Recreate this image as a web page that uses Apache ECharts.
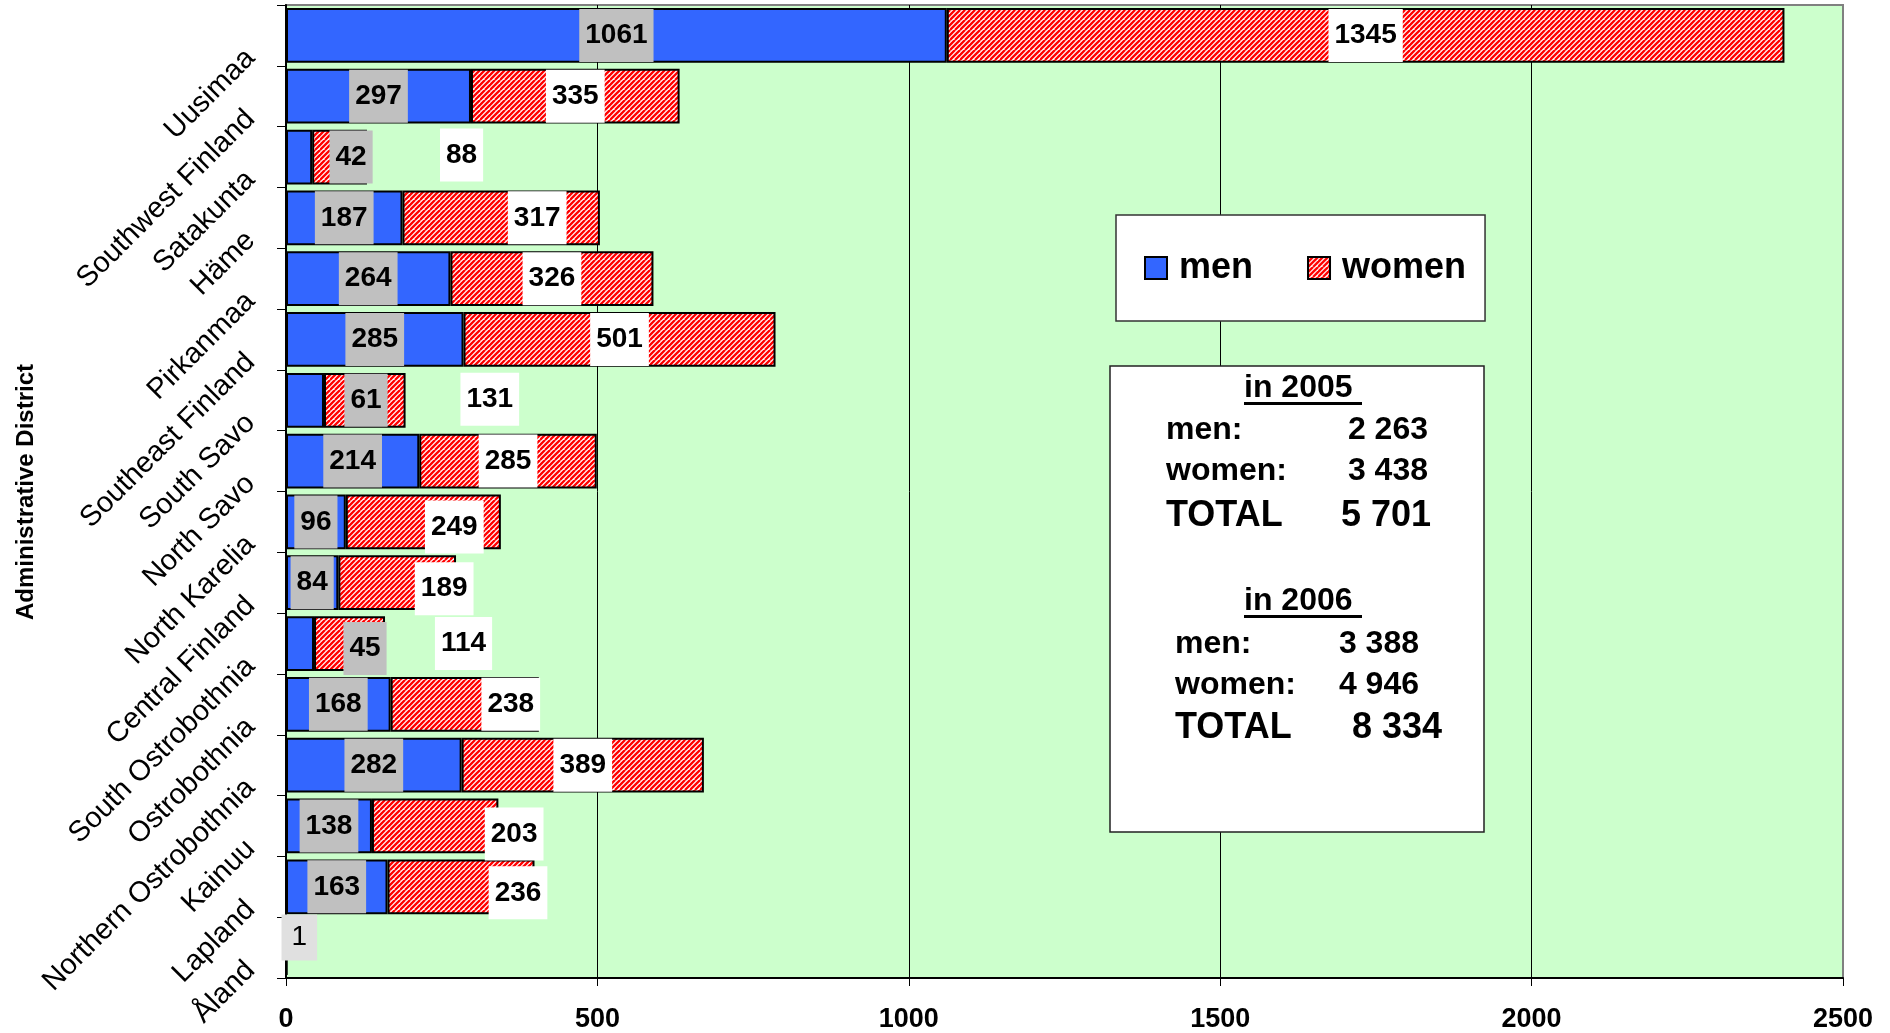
<!DOCTYPE html>
<html>
<head>
<meta charset="utf-8">
<script src="https://cdn.jsdelivr.net/npm/echarts@6/dist/echarts.min.js"></script>
<style>
html, body { margin: 0; padding: 0; background: #fff; }
#chart { width: 1890px; height: 1033px; }
</style>
</head>
<body>
<div id="chart"></div>
<script>
// data
const districts = ['Uusimaa', 'Southwest Finland', 'Satakunta', 'Häme', 'Pirkanmaa',
  'Southeast Finland', 'South Savo', 'North Savo', 'North Karelia', 'Central Finland',
  'South Ostrobothnia', 'Ostrobothnia', 'Northern Ostrobothnia', 'Kainuu', 'Lapland', 'Åland']
const men = [1061, 297, 42, 187, 264, 285, 61, 214, 96, 84, 45, 168, 282, 138, 163, 1]
const women = [1345, 335, 88, 317, 326, 501, 131, 285, 249, 189, 114, 238, 389, 203, 236, 0]
const seriesNames = ['men', 'women']
const summary2005 = [['men:', '2 263'], ['women:', '3 438'], ['TOTAL', '5 701']]
const summary2006 = [['men:', '3 388'], ['women:', '4 946'], ['TOTAL', '8 334']]

const FONT = 'Arial, "Liberation Sans", sans-serif'

// labels that were dragged off their bar in the original (pixel nudges)
const menNudge = { 2: [52, 0], 6: [61, 0], 10: [65, 5], 15: [13, -10] }
const womenNudge = { 2: [122, -2], 3: [36, 0], 6: [125, -1], 8: [31, 5], 9: [47, 6],
  10: [114, 0], 11: [46, 0], 13: [79, 8], 14: [57, 6] }

// red / white diagonal hatch
function hatch() {
  var c = document.createElement('canvas')
  c.width = 10; c.height = 10
  var g = c.getContext('2d')
  g.fillStyle = '#ffffff'
  g.fillRect(0, 0, 10, 10)
  g.strokeStyle = '#ff0000'
  g.lineWidth = 2.3
  for (var k = -1; k <= 5; k++) {
    g.beginPath()
    g.moveTo(k * 5, 0)
    g.lineTo(k * 5 - 10, 10)
    g.stroke()
    g.beginPath()
    g.moveTo(k * 5 + 10, -10)
    g.lineTo(k * 5, 0)
    g.stroke()
  }
  return c
}

function menItem(v, i) {
  var item = { value: v }
  var nudge = menNudge[i]
  if (nudge) item.label = { offset: nudge }
  if (i === 15) {
    item.label = { offset: nudge, fontWeight: 'normal', backgroundColor: '#e0e0e0', padding: [9, 10, 9, 10] }
  }
  return item
}

function womenItem(v, i) {
  var item = { value: v }
  if (womenNudge[i]) item.label = { offset: womenNudge[i] }
  if (v === 0) item.label = { show: false }
  return item
}

var valueLabel = {
  show: true,
  position: 'inside',
  color: '#000',
  fontFamily: FONT,
  fontWeight: 'bold',
  fontSize: 28,
  lineHeight: 28,
  padding: [13, 6, 12, 6]
}

var chart = echarts.init(document.getElementById('chart'))

var summaryText = []
function block(title, titleY, rows, left, numRight, rowsY) {
  summaryText.push({
    type: 'text', z: 101, x: 1244, y: titleY,
    style: { text: title, font: 'bold 32px ' + FONT, fill: '#000', align: 'left', verticalAlign: 'middle' }
  })
  summaryText.push({
    type: 'rect', z: 101, shape: { x: 1244, y: titleY + 14, width: 118, height: 3 },
    style: { fill: '#000' }
  })
  rows.forEach(function (r, i) {
    var size = r[0] === 'TOTAL' ? 36 : 32
    summaryText.push({
      type: 'text', z: 101, x: left, y: rowsY[i],
      style: { text: r[0], font: 'bold ' + size + 'px ' + FONT, fill: '#000', align: 'left', verticalAlign: 'middle' }
    })
    summaryText.push({
      type: 'text', z: 101, x: numRight[i], y: rowsY[i],
      style: { text: r[1], font: 'bold ' + size + 'px ' + FONT, fill: '#000', align: 'right', verticalAlign: 'middle' }
    })
  })
}
block('in 2005 ', 388, summary2005, 1166, [1428, 1428, 1431], [430, 471, 516])
block('in 2006 ', 601, summary2006, 1175, [1419, 1419, 1442], [644, 685, 728])

var option = {
  backgroundColor: '#fff',
  animation: false,
  grid: {
    left: 286, right: 47, top: 5, bottom: 55,
    containLabel: false,
    outerBoundsMode: 'none',
    show: true,
    backgroundColor: '#ccffcc',
    borderColor: '#808080',
    borderWidth: 2
  },
  legend: {
    data: seriesNames,
    left: 1116,
    top: 215,
    orient: 'horizontal',
    icon: 'rect',
    itemWidth: 22,
    itemHeight: 22,
    itemGap: 54,
    padding: [35, 19, 35, 28],
    backgroundColor: '#fff',
    borderColor: '#333',
    borderWidth: 1.5,
    selectedMode: false,
    textStyle: { color: '#000', fontFamily: FONT, fontWeight: 'bold', fontSize: 36, lineHeight: 36, padding: [0, 0, 0, 7] }
  },
  xAxis: {
    type: 'value',
    min: 0,
    max: 2500,
    interval: 500,
    axisLine: { show: true, lineStyle: { color: '#000', width: 2 } },
    axisTick: { show: true, length: 8, lineStyle: { color: '#000', width: 1 } },
    axisLabel: {
      color: '#000', fontFamily: FONT, fontWeight: 'bold', fontSize: 27, margin: 28,
      formatter: function (v) { return String(v) }
    },
    splitLine: { show: true, lineStyle: { color: ['#000', '#000', '#000', '#000', '#000', '#808080'], width: 1 } }
  },
  yAxis: {
    type: 'category',
    inverse: true,
    data: districts,
    axisLine: { show: true, lineStyle: { color: '#000', width: 2 } },
    axisTick: { show: true, length: 9, lineStyle: { color: '#000', width: 1 } },
    axisLabel: {
      interval: 0,
      rotate: 45,
      margin: 17,
      color: '#000',
      fontFamily: FONT,
      fontSize: 29,
      padding: [66, 26, 0, 0]
    },
    splitLine: { show: false }
  },
  graphic: [
    {
      type: 'text', z: 100, x: 26, y: 492, rotation: Math.PI / 2,
      style: { text: 'Administrative District', font: 'bold 24px ' + FONT, fill: '#000', align: 'center', verticalAlign: 'middle' }
    },
    {
      type: 'rect', z: 100, shape: { x: 1110, y: 366, width: 374, height: 466 },
      style: { fill: '#fff', stroke: '#222', lineWidth: 1.5 }
    }
  ].concat(summaryText),
  series: [
    {
      name: seriesNames[0],
      type: 'bar',
      stack: 'total',
      barCategoryGap: '10%',
      itemStyle: { color: '#3366ff', borderColor: '#000', borderWidth: 2 },
      label: Object.assign({}, valueLabel, { backgroundColor: '#c0c0c0' }),
      data: men.map(menItem)
    },
    {
      name: seriesNames[1],
      type: 'bar',
      stack: 'total',
      barCategoryGap: '10%',
      itemStyle: { color: { image: hatch(), repeat: 'repeat' }, borderColor: '#000', borderWidth: 2 },
      label: Object.assign({}, valueLabel, { backgroundColor: '#fff' }),
      data: women.map(womenItem)
    }
  ]
}

chart.setOption(option)
</script>
</body>
</html>
